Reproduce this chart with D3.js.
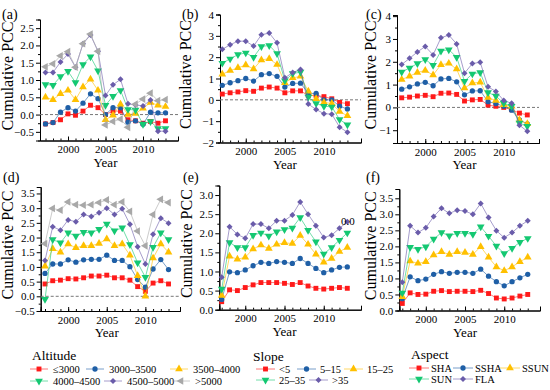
<!DOCTYPE html>
<html>
<head>
<meta charset="utf-8">
<script src="https://cdn.jsdelivr.net/npm/d3@7"></script>
<style>
body{margin:0;background:#fff}
svg text{fill:#000}
</style>
</head>
<body>
<svg id="chart" width="550" height="390"></svg>
<script>
var years = [1997,1998,1999,2000,2001,2002,2003,2004,2005,2006,2007,2008,2009,2010,2011,2012,2013]
var yearTicks = [2000,2005,2010]

var altitudeNames = ["\u22643000","3000\u20133500","3500\u20134000","4000\u20134500","4500\u20135000",">5000"]
var slopeNames = ["<5","5\u201315","15\u201325","25\u201335",">35"]
var aspectNames = ["SHA","SSHA","SSUN","SUN","FLA"]

// (a) altitude
var panelA = [
  [-0.27,-0.23,-0.15,0.02,-0.02,0.1,0.27,0.2,0.0,0.1,0.1,-0.15,-0.18,-0.25,-0.2,-0.25,-0.18],
  [-0.27,-0.23,0.07,0.2,0.1,0.33,0.6,0.46,0.0,0.2,0.2,-0.22,-0.18,-0.28,0.07,0.05,0.05],
  [0.5,0.43,0.6,0.7,0.43,0.8,1.02,0.7,-0.15,-0.02,0.3,0.0,0.03,0.18,0.35,0.27,0.23],
  [0.87,0.85,1.1,1.25,0.93,1.45,1.67,1.27,0.27,0.53,0.7,0.15,0.13,-0.28,-0.2,-0.4,-0.4],
  [1.22,1.22,1.52,1.75,1.37,2.05,2.3,1.83,0.55,0.86,1.02,0.31,0.28,0.25,0.42,-0.48,-0.48],
  [1.38,1.47,1.7,1.82,1.37,2.05,2.33,1.83,-0.3,-0.2,-0.13,-0.37,0.3,0.45,0.62,0.4,0.43]
]
// (b) slope
var panelB = [
  [0.27,0.33,0.37,0.43,0.4,0.55,0.6,0.55,0.33,0.42,0.42,0.2,0.2,0.15,0.05,-0.12,-0.18],
  [0.68,0.8,0.9,1.0,0.88,1.18,1.23,1.1,0.6,0.77,0.78,0.3,0.3,0.0,0.0,-0.3,-0.43],
  [1.2,1.37,1.5,1.63,1.45,1.87,1.93,1.65,0.8,1.03,1.1,0.4,0.05,-0.12,-0.17,-0.55,-0.75],
  [1.72,1.92,2.12,2.2,2.0,2.5,2.55,2.17,0.9,1.23,1.3,0.13,-0.17,-0.3,-0.33,-0.92,-1.17],
  [2.37,2.58,2.75,2.75,2.52,3.05,3.13,2.67,1.03,1.28,1.42,-0.2,-0.45,-0.65,-0.67,-1.28,-1.52]
]
// (c) aspect
var panelC = [
  [0.42,0.45,0.5,0.53,0.47,0.62,0.63,0.57,0.28,0.33,0.35,0.1,0.05,0.0,-0.1,-0.25,-0.33],
  [0.8,0.9,1.03,1.1,0.95,1.25,1.27,1.12,0.55,0.72,0.73,0.25,0.17,0.05,-0.12,-0.55,-0.72],
  [1.22,1.37,1.53,1.62,1.42,1.87,1.93,1.68,0.85,1.07,1.1,0.43,0.3,0.12,0.05,-0.55,-0.72],
  [1.55,1.73,1.92,2.1,1.85,2.47,2.53,2.2,1.15,1.47,1.53,0.65,0.5,0.18,0.05,-0.68,-0.83],
  [1.88,2.15,2.43,2.67,2.3,3.05,3.17,2.78,1.5,1.92,1.98,0.9,0.7,0.3,0.18,-0.78,-1.05]
]
// (d) altitude
var panelD = [
  [0.42,0.53,0.55,0.6,0.59,0.63,0.69,0.69,0.72,0.63,0.63,0.55,0.33,0.17,0.45,0.53,0.42],
  [0.78,1.1,1.1,1.24,1.16,1.24,1.26,1.26,1.4,1.22,1.22,1.01,0.57,0.31,0.93,1.25,0.91],
  [1.02,1.62,1.5,1.78,1.65,1.72,1.72,1.8,1.95,1.72,1.78,1.4,0.7,0.0,1.3,1.78,1.5],
  [-0.1,1.93,1.82,2.16,2.05,2.18,2.16,2.28,2.46,2.23,2.33,1.76,1.14,0.65,1.67,2.16,1.93],
  [1.22,2.37,2.25,2.6,2.54,2.78,2.72,2.84,3.0,2.78,2.98,2.45,1.69,1.1,2.11,2.66,2.49],
  [1.79,2.99,2.93,3.21,3.12,3.1,3.12,3.19,3.28,3.12,3.21,2.89,2.22,1.72,2.78,3.3,3.19]
]
// (e) slope
var panelE = [
  [0.21,0.52,0.5,0.58,0.65,0.71,0.71,0.71,0.69,0.66,0.71,0.62,0.56,0.54,0.56,0.58,0.56],
  [0.27,0.99,0.97,1.04,1.15,1.24,1.21,1.26,1.24,1.21,1.34,1.21,1.08,0.97,1.04,1.11,1.12],
  [0.37,1.4,1.32,1.37,1.59,1.69,1.6,1.71,1.75,1.73,1.94,1.71,1.45,1.24,1.34,1.52,1.63],
  [0.54,1.76,1.63,1.63,1.95,2.01,1.93,2.04,2.1,2.14,2.41,2.08,1.78,1.46,1.63,1.82,2.01],
  [0.85,2.17,1.97,1.87,2.24,2.24,2.13,2.33,2.33,2.48,2.82,2.5,2.2,1.89,1.95,2.13,2.3]
]
// (f) aspect
var panelF = [
  [0.22,0.55,0.5,0.51,0.6,0.62,0.59,0.6,0.6,0.59,0.63,0.53,0.39,0.36,0.39,0.45,0.5],
  [0.37,1.05,0.93,0.98,1.13,1.21,1.16,1.19,1.19,1.16,1.29,1.07,0.9,0.77,0.9,1.02,1.13],
  [0.43,1.54,1.47,1.52,1.73,1.83,1.75,1.83,1.81,1.75,1.99,1.66,1.36,1.24,1.36,1.52,1.66],
  [0.55,1.97,1.91,1.99,2.23,2.43,2.33,2.41,2.41,2.38,2.61,2.32,2.01,1.78,1.94,2.13,2.25],
  [0.88,2.64,2.43,2.58,2.93,3.19,3.03,3.13,3.1,3.0,3.34,2.9,2.49,2.27,2.43,2.64,2.8]
]

var ticksA = [-0.5,0,0.5,1,1.5,2,2.5]
var ticksB = [-2,-1,0,1,2,3,4]
var ticksC = [-1,0,1,2,3,4]
var ticksD = [-0.5,0,0.5,1,1.5,2,2.5,3,3.5]
var ticksE = [0,0.5,1,1.5,2,2.5,3]
var ticksF = [0,0.5,1,1.5,2,2.5,3,3.5]

var colors = ["#ff1a1a","#1f5fa6","#ffc000","#14c872","#6a5caa","#a8a8a8"]
var shapes = ["square","circle","up","down","diamond","left"]

var FONT = "'Liberation Serif', Tinos, 'Times New Roman', Times, 'DejaVu Serif', 'Noto Serif', serif"
var svg = d3.select("#chart").attr("font-family", FONT)

function marker(sel, kind, color){
    var sym = d3.symbolTriangle, size = 26, rot = 0
    if(kind=="square"){ sym = d3.symbolSquare; size = 24 }
    if(kind=="circle"){ sym = d3.symbolCircle; size = 22 }
    if(kind=="diamond"){ sym = d3.symbolSquare; size = 18; rot = 45 }
    if(kind=="down") rot = 180
    if(kind=="left") rot = -90
    sel.append("path")
        .attr("d", d3.symbol().type(sym).size(size)())
        .attr("transform", "rotate(" + rot + ")")
        .attr("fill", color)
}

var layout = [
    {name:"(a)", data:panelA, ticks:ticksA, fmt:".1f", ax0:40, ax1:178, p0:45.5, dx:7.5, ybot:140.5, ytop:19.5, ydom:[-0.75,2.75], lx:2, ly:19, tx:12.5},
    {name:"(b)", data:panelB, ticks:ticksB, fmt:"d", ax0:220, ax1:361, p0:222.3, dx:7.82, ybot:142.5, ytop:14.5, ydom:[-2,4], lx:182, ly:19, tx:191},
    {name:"(c)", data:panelC, ticks:ticksC, fmt:"d", ax0:397, ax1:539, p0:401.7, dx:7.85, ybot:143, ytop:15, ydom:[-1.56,4.05], lx:366, ly:19, tx:376},
    {name:"(d)", data:panelD, ticks:ticksD, fmt:".1f", ax0:40.7, ax1:180, p0:45, dx:7.72, ybot:311, ytop:187, ydom:[-0.5,3.72], lx:3, ly:182, tx:12.5},
    {name:"(e)", data:panelE, ticks:ticksE, fmt:".1f", ax0:219.3, ax1:361, p0:221.7, dx:7.85, ybot:309.7, ytop:185.5, ydom:[0,3.25], lx:183, ly:182, tx:192},
    {name:"(f)", data:panelF, ticks:ticksF, fmt:".1f", ax0:399.3, ax1:540, p0:402.3, dx:7.84, ybot:310.5, ytop:189, ydom:[0,3.79], lx:366, ly:182, tx:376}
]

layout.forEach(function(p){
    var x = d3.scaleLinear()
        .domain([1997 - (p.p0 - p.ax0)/p.dx, 1997 + (p.ax1 - p.p0)/p.dx])
        .range([p.ax0, p.ax1])
    var y = d3.scaleLinear().domain(p.ydom).range([p.ybot, p.ytop])
    var g = svg.append("g")

    // minor ticks
    var minor = []
    for(var i=0;i<p.ticks.length-1;i++) minor.push((p.ticks[i]+p.ticks[i+1])/2)
    g.append("g").attr("transform","translate("+p.ax0+",0)")
        .call(d3.axisLeft(y).tickValues(minor).tickSize(2).tickFormat(""))
    g.append("g").attr("transform","translate(0,"+p.ybot+")")
        .call(d3.axisBottom(x).tickValues(years).tickSize(-2).tickFormat(""))

    g.append("g").attr("transform","translate("+p.ax0+",0)")
        .call(d3.axisLeft(y).tickValues(p.ticks).tickSize(4).tickPadding(2).tickFormat(d3.format(p.fmt)))
    g.append("g").attr("transform","translate(0,"+p.ybot+")")
        .call(d3.axisBottom(x).tickValues(yearTicks).tickSize(-4).tickPadding(5).tickFormat(d3.format("d")))
    g.selectAll("g").attr("font-family", FONT)
    g.selectAll(".tick text").attr("font-size", 11)
    g.selectAll(".domain, .tick line").attr("stroke","#000")

    // zero line
    if(p.ydom[0] < 0){
        g.append("line")
            .attr("x1", p.ax0).attr("x2", p.ax1)
            .attr("y1", y(0)).attr("y2", y(0))
            .attr("stroke","#777").attr("stroke-dasharray","3,2").attr("stroke-width",1)
    }

    var line = d3.line().x(function(d,i){ return x(years[i]) }).y(function(d){ return y(d) })
    p.data.forEach(function(s, k){
        g.append("path").datum(s)
            .attr("d", line)
            .attr("fill","none")
            .attr("stroke", colors[k])
            .attr("stroke-opacity", 0.6)
            .attr("stroke-width", 1)
        s.forEach(function(v, i){
            var m = g.append("g").attr("transform","translate("+x(years[i])+","+y(v)+")")
            marker(m, shapes[k], colors[k])
        })
    })

    g.append("text").attr("x", p.lx).attr("y", p.ly).attr("font-size", 14).text(p.name)
    var cy = (p.ybot + p.ytop)/2 - 4
    g.append("text")
        .attr("transform","translate("+p.tx+","+cy+") rotate(-90)")
        .attr("text-anchor","middle").attr("font-size", 16)
        .text("Cumulative PCC")
    g.append("text")
        .attr("x", x(2005)).attr("y", p.ybot + 26)
        .attr("text-anchor","middle").attr("font-size", 13)
        .text("Year")
})

// stray label in panel (e)
svg.append("text").attr("x", 341).attr("y", 225).attr("font-size", 11).text("0.0")

// legends
function legend(title, tx, ty, names, items, lineLen, gap){
    svg.append("text").attr("x", tx).attr("y", ty).attr("font-size", 13.5).text(title)
    names.forEach(function(n, k){
        var it = items[k]
        var g = svg.append("g")
        g.append("line").attr("x1", it[0]).attr("x2", it[0] + lineLen)
            .attr("y1", it[1]).attr("y2", it[1])
            .attr("stroke", colors[k]).attr("stroke-opacity", 0.6).attr("stroke-width", 1)
        var m = g.append("g").attr("transform","translate("+(it[0] + lineLen/2)+","+it[1]+")")
        marker(m, shapes[k], colors[k])
        g.append("text").attr("x", it[0] + lineLen + gap).attr("y", it[1] + 3.5)
            .attr("font-size", 10.5).text(n)
    })
}
legend("Altitude", 32, 360, altitudeNames,
    [[30,369],[86,369],[170,369],[30,381],[104,381],[172,381]], 18, 5)
legend("Slope", 253, 361, slopeNames,
    [[256,369],[297,369],[344,369],[256,380],[309,380]], 19, 4)
legend("Aspect", 411, 359, aspectNames,
    [[409,368],[453,368],[500,368],[409,379],[453,379]], 20, 2)
</script>
</body>
</html>
